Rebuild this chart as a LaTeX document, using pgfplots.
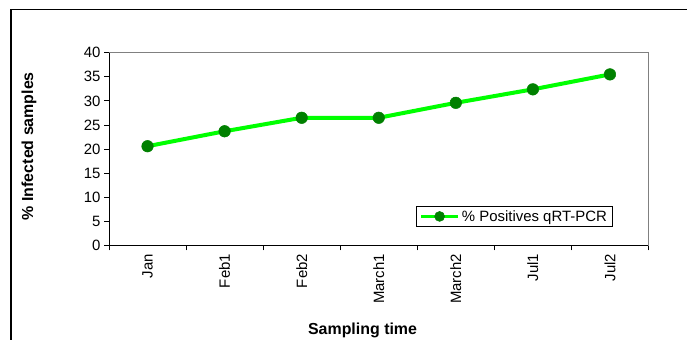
\documentclass[border=0pt]{standalone}
\usepackage{pgfplots}
\pgfplotsset{compat=1.18}
\usepackage{fontspec}
\setmainfont{Liberation Sans}
\definecolor{lgreen}{HTML}{00FF00}
\definecolor{dgreen}{HTML}{008000}
\begin{document}
\begin{tikzpicture}
\path[use as bounding box] (0,0) rectangle (687bp,340bp);
\draw[black, line width=1.3bp] (11bp,0) -- (11bp,330.7bp) -- (687bp,330.7bp);
\begin{axis}[
 at={(109bp,94.5bp)}, anchor=south west,
 scale only axis, width=539.5bp, height=192.8bp,
 xmin=-0.5, xmax=6.5, ymin=0, ymax=40,
 xtick={0,...,6}, xticklabels={Jan,Feb1,Feb2,March1,March2,Jul1,Jul2},
 minor xtick={-0.5,0.5,...,6.5},
 ytick={0,5,...,40},
 tick align=outside, major tick length=5bp, minor tick length=5bp,
 major x tick style={draw=none},
 tick style={black, line width=0.9bp},
 xtick pos=bottom, ytick pos=left,
 axis line style={draw=gray, line width=0.9bp},
 ticklabel style={font=\fontsize{15}{18}\selectfont},
 /pgf/number format/assume math mode=true,
 xticklabel style={rotate=90, anchor=east},
 xlabel={Sampling time}, ylabel={\% Infected samples},
 label style={font=\bfseries\fontsize{16}{19}\selectfont},
 xlabel style={at={(axis description cs:0.47,-0.4616)}, anchor=base},
 ylabel style={at={(axis description cs:-0.1483,0.5156)}, anchor=center},
 legend style={at={(axis description cs:0.569,0.096)}, anchor=south west, draw=black, line width=0.8bp, font=\fontsize{15}{18}\selectfont, inner xsep=3bp, inner ysep=2bp},
 legend cell align=left,
 legend image code/.code={\draw[#1, line width=3.5bp, mark size=5bp, mark repeat=2, mark phase=2] plot coordinates {(0bp,0bp) (18.5bp,0bp) (37bp,0bp)};},
]
\addplot[color=lgreen, line width=4bp, mark=*, mark size=5.8bp, mark options={fill=dgreen, draw=dgreen, line width=0.5bp}] coordinates {(0,20.6)(1,23.7)(2,26.5)(3,26.5)(4,29.6)(5,32.4)(6,35.5)};
\addlegendentry{\% Positives qRT-PCR}
\draw[black, line width=1.1bp] (rel axis cs:0,1) -- (rel axis cs:0,0) -- (rel axis cs:1,0);
\end{axis}
\end{tikzpicture}
\end{document}
